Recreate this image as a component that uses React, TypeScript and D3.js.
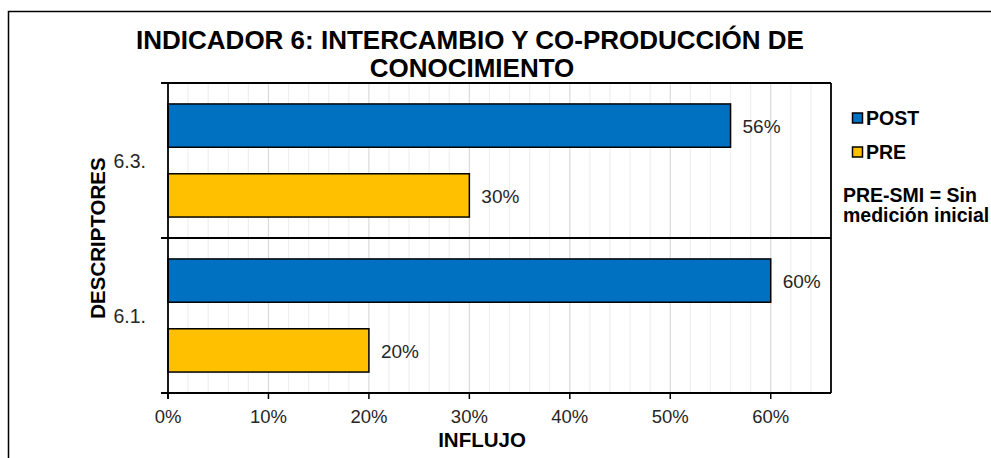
import React from "react";
import * as d3 from "d3";

const categories = ["6.3.", "6.1."];
const seriesNames = ["POST", "PRE"];
const postValues = [0.56, 0.6];
const preValues = [0.3, 0.2];
const xTicks = [0, 0.1, 0.2, 0.3, 0.4, 0.5, 0.6];
const seriesColors = ["#0070C0", "#FFC000"];

const W = 991;
const H = 458;
const FONT = "'Liberation Sans', Arial, sans-serif";

export default function App() {
  const left = 168;
  const right = 831;
  const top = 83;
  const bottom = 393;

  const x = d3.scaleLinear().domain([0, 0.66]).range([left, right]);
  const y = d3.scaleBand<string>().domain(categories).range([top, bottom]).paddingInner(0).paddingOuter(0);
  const inner = d3
    .scaleBand<string>()
    .domain(seriesNames)
    .range([0, y.bandwidth()])
    .paddingInner(0.38)
    .paddingOuter(0.3);

  const minorTicks = d3.range(0, 33).map((i) => i * 0.02).filter((v) => v > 0);
  const valuesBySeries = [postValues, preValues];
  const fmt = d3.format(".0%");

  return (
    <svg
      width={W}
      height={H}
      style={{ position: "absolute", left: 0, top: 0, background: "#fff" }}
      fontFamily={FONT}
    >
      <rect x={0} y={0} width={W} height={H} fill="#fff" />
      <rect x={8.5} y={11.5} width={1100} height={600} fill="none" stroke="#000" strokeWidth={1.5} />

      {/* title */}
      <text x={470} y={49} textAnchor="middle" fontSize={26} fontWeight="bold" fill="#000">
        INDICADOR 6: INTERCAMBIO Y CO-PRODUCCIÓN DE
      </text>
      <text x={472} y={77} textAnchor="middle" fontSize={26} fontWeight="bold" fill="#000">
        CONOCIMIENTO
      </text>

      {/* gridlines */}
      {minorTicks.map((v, i) => {
        const major = Math.abs(v * 10 - Math.round(v * 10)) < 1e-6;
        return (
          <line
            key={"g" + i}
            x1={x(v)}
            x2={x(v)}
            y1={top}
            y2={bottom}
            stroke={major ? "#d9d9d9" : "#efefef"}
            strokeWidth={1.2}
          />
        );
      })}

      {/* bars */}
      {categories.map((c, ci) =>
        seriesNames.map((s, si) => {
          const v = valuesBySeries[si][ci];
          const by = (y(c) ?? 0) + (inner(s) ?? 0);
          return (
            <g key={c + s}>
              <rect
                x={x(0)}
                y={by}
                width={x(v) - x(0)}
                height={inner.bandwidth()}
                fill={seriesColors[si]}
                stroke="#000"
                strokeWidth={1.5}
              />
              <text
                x={x(v) + 12}
                y={by + inner.bandwidth() / 2}
                dy="0.38em"
                fontSize={19}
                fill="#262626"
              >
                {fmt(v)}
              </text>
            </g>
          );
        })
      )}

      {/* plot frame */}
      <line x1={right} x2={right} y1={top} y2={bottom} stroke="#000" strokeWidth={1.8} />
      <line x1={left - 7} x2={right} y1={top} y2={top} stroke="#000" strokeWidth={1.8} />
      {categories.slice(1).map((c) => (
        <line key={"d" + c} x1={left - 7} x2={right} y1={y(c)} y2={y(c)} stroke="#000" strokeWidth={1.8} />
      ))}
      <line x1={left - 7} x2={right} y1={bottom} y2={bottom} stroke="#000" strokeWidth={1.8} />
      <line x1={left} x2={left} y1={top} y2={bottom + 6} stroke="#000" strokeWidth={1.8} />

      {/* x ticks */}
      {xTicks.map((t) => (
        <g key={"t" + t}>
          <line x1={x(t)} x2={x(t)} y1={bottom} y2={bottom + 6} stroke="#000" strokeWidth={1.5} />
          <text x={x(t)} y={423} textAnchor="middle" fontSize={18.5} fill="#262626">
            {fmt(t)}
          </text>
        </g>
      ))}

      {/* y labels */}
      {categories.map((c) => (
        <text
          key={"y" + c}
          x={146}
          y={(y(c) ?? 0) + y.bandwidth() / 2}
          dy="0.36em"
          textAnchor="end"
          fontSize={19.5}
          fill="#262626"
        >
          {c}
        </text>
      ))}

      {/* axis titles */}
      <text x={482} y={447} textAnchor="middle" fontSize={20.5} fontWeight="bold" fill="#000">
        INFLUJO
      </text>
      <text
        transform={`translate(105,${(top + bottom) / 2}) rotate(-90)`}
        textAnchor="middle"
        fontSize={20.5}
        fontWeight="bold"
        fill="#000"
      >
        DESCRIPTORES
      </text>

      {/* legend */}
      {seriesNames.map((s, i) => (
        <g key={"l" + s}>
          <rect
            x={852.5}
            y={113 + i * 34}
            width={10}
            height={10}
            fill={seriesColors[i]}
            stroke="#000"
            strokeWidth={1.5}
          />
          <text x={866} y={124.5 + i * 34} fontSize={19.5} fontWeight="bold" fill="#000">
            {s}
          </text>
        </g>
      ))}
      <text x={843} y={202} fontSize={19.5} fontWeight="bold" fill="#000">
        PRE-SMI = Sin
      </text>
      <text x={843} y={222} fontSize={19.5} fontWeight="bold" fill="#000">
        medición inicial
      </text>
    </svg>
  );
}
